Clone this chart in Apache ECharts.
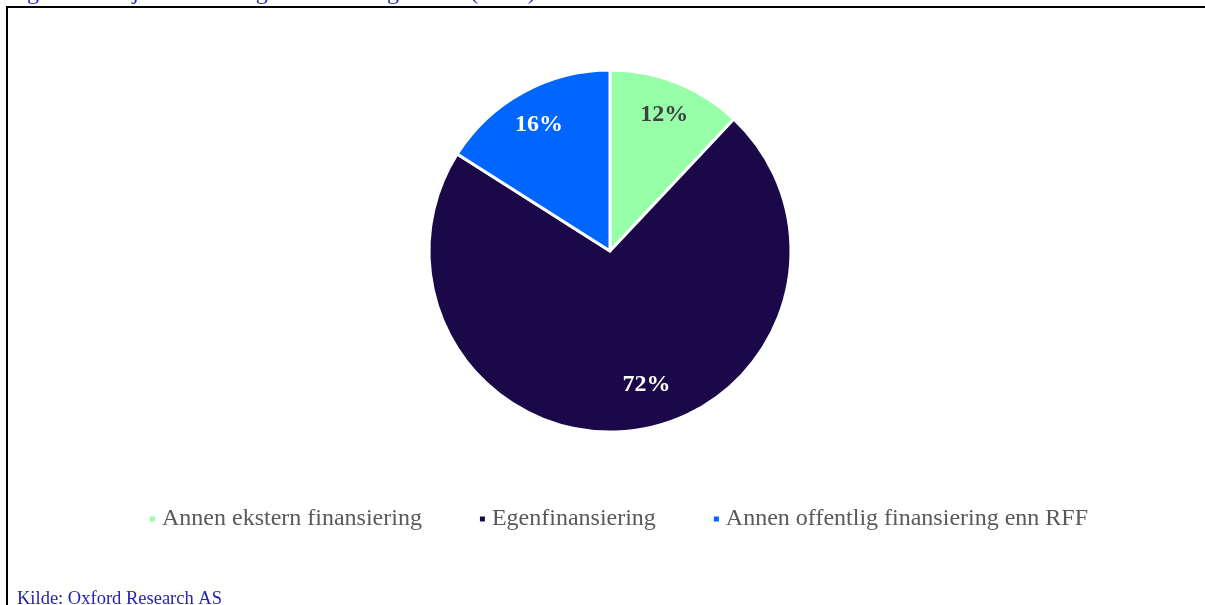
<!DOCTYPE html>
<html>
<head>
<meta charset="utf-8">
<style>
  html, body { margin: 0; padding: 0; background: #ffffff; }
  #chart { width: 1205px; height: 605px; }
</style>
<script src="https://cdn.jsdelivr.net/npm/echarts@6/dist/echarts.min.js"></script>
</head>
<body>
<div id="chart"></div>
<script>
// Funding sources (share of projects' other financing, %)
const categories = ['Annen ekstern finansiering', 'Egenfinansiering', 'Annen offentlig finansiering enn RFF'];
const shares = [12, 72, 16];
const sliceColors = ['#96FFA8', '#1B0849', '#0066FF'];
const labelColors = ['#404040', '#FFFFFF', '#FFFFFF'];

const titleText = 'Figur 8: Prosjektenes øvrige finansieringskilder (n=61)';
const sourceText = 'Kilde: Oxford Research AS';

const serif = '"Liberation Serif", "Times New Roman", serif';

const chart = echarts.init(document.getElementById('chart'));

const data = categories.map((name, i) => ({
  name: name,
  value: shares[i],
  itemStyle: { color: sliceColors[i] }
}));

// label placement for the big slice sits a bit off its bisector
const labelOffsets = [[0, 1], [18, -13], [0, 3]];

const labelData = categories.map((name, i) => ({
  name: name,
  value: shares[i],
  label: { color: labelColors[i], offset: labelOffsets[i] }
}));

chart.setOption({
  animation: false,
  backgroundColor: '#ffffff',
  legend: {
    data: categories,
    left: 143,
    top: 502,
    icon: 'rect',
    itemWidth: 7,
    itemHeight: 7,
    itemGap: 56,
    textStyle: { fontFamily: serif, fontSize: 24, color: '#595959', padding: [0, 0, 0, 1] }
  },
  graphic: [
    {
      type: 'rect',
      shape: { x: 7, y: 7, width: 1220, height: 620 },
      style: { fill: 'none', stroke: '#000000', lineWidth: 2 },
      silent: true
    },
    {
      type: 'text',
      left: 7,
      top: -19,
      style: { text: titleText, font: '24px ' + serif, fill: '#2323B4' }
    },
    {
      type: 'text',
      left: 17,
      top: 590,
      style: { text: sourceText, font: '18.5px ' + serif, fill: '#2323B4' }
    }
  ],
  series: [
    {
      type: 'pie',
      center: [610, 251],
      radius: [0, 181],
      startAngle: 90,
      clockwise: true,
      label: { show: false },
      labelLine: { show: false },
      itemStyle: { borderColor: '#ffffff', borderWidth: 3 },
      emphasis: { disabled: true },
      data: data
    },
    {
      // transparent ring used only to place the percentage labels
      type: 'pie',
      center: [610, 251],
      radius: [108, 181],
      startAngle: 90,
      clockwise: true,
      silent: true,
      itemStyle: { color: 'rgba(0,0,0,0)' },
      label: {
        show: true,
        position: 'inside',
        formatter: '{c}%',
        fontFamily: serif,
        fontWeight: 'bold',
        fontSize: 24
      },
      labelLine: { show: false },
      emphasis: { disabled: true },
      data: labelData
    }
  ]
});
</script>
</body>
</html>
